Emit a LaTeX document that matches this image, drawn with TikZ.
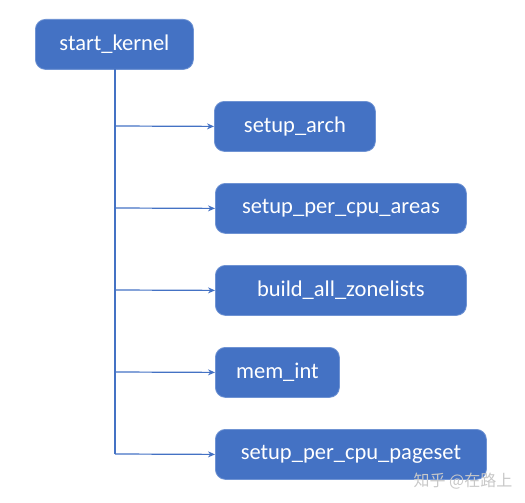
\documentclass[tikz,border=0pt]{standalone}
\usepackage{fontspec}
\setmainfont{Carlito}
\newfontfamily\cjk{Noto Sans CJK SC}
\usetikzlibrary{arrows.meta}
\definecolor{boxblue}{HTML}{4472C4}
\definecolor{boxedge}{HTML}{6F93D3}
\definecolor{wmgray}{HTML}{C8C8C8}
\begin{document}
\begin{tikzpicture}[x=1pt,y=-1pt,
  fbox/.style={draw=boxedge,line width=0.8pt,fill=boxblue,rounded corners=10pt,text=white,font=\fontsize{22.5}{27}\selectfont,inner sep=0pt,anchor=north west},
  link/.style={draw=boxblue,line width=1.2pt},
  arr/.style={link,-{Stealth[length=7pt,width=6pt]}}]
\useasboundingbox (0,0) rectangle (525,503);
\node[fbox,minimum width=158pt,minimum height=50pt] (k) at (35,19) {start\_kernel};
\node[fbox,minimum width=161pt,minimum height=50pt] (a) at (214,101) {setup\_arch};
\node[fbox,minimum width=251pt,minimum height=50pt] (b) at (215,183) {setup\_per\_cpu\_areas};
\node[fbox,minimum width=251pt,minimum height=50pt] (c) at (215,265) {build\_all\_zonelists};
\node[fbox,minimum width=124pt,minimum height=50pt] (d) at (215,347) {mem\_int};
\node[fbox,minimum width=271pt,minimum height=50pt] (e) at (215,429) {setup\_per\_cpu\_pageset};
\coordinate (top) at (115,69.5);
\coordinate (j1) at (115,126);
\coordinate (j2) at (115,208);
\coordinate (j3) at (115,290);
\coordinate (j4) at (115,372);
\coordinate (j5) at (115,454);
\draw[link] (top) -- (j5);
\draw[arr] (j1) -- (a.west);
\draw[arr] (j2) -- (b.west);
\draw[arr] (j3) -- (c.west);
\draw[arr] (j4) -- (d.west);
\draw[arr] (j5) -- (e.west);
\node[text=wmgray,font=\cjk\fontsize{16}{19}\selectfont,anchor=center] (wm) at (463,481) {知乎 @在路上};
\end{tikzpicture}
\end{document}
